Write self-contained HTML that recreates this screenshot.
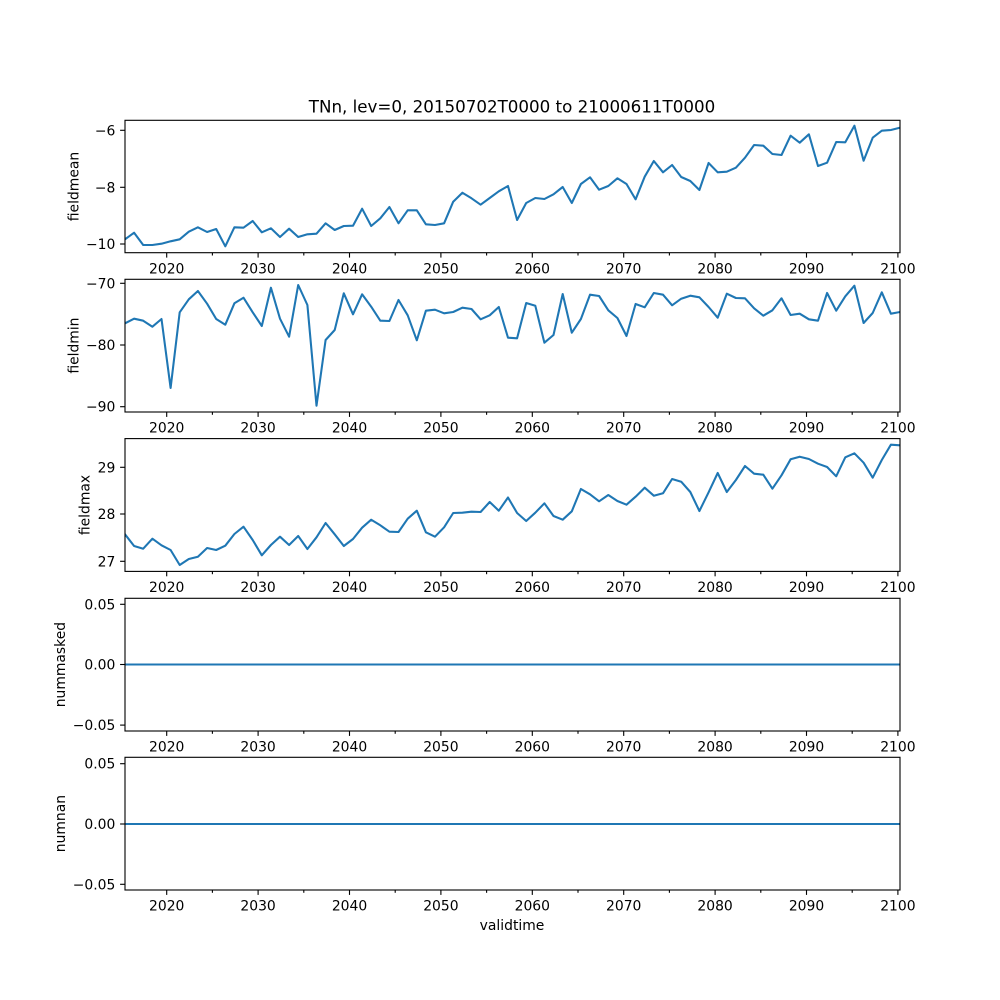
<!DOCTYPE html>
<html>
<head>
<meta charset="utf-8">
<style>
html,body{margin:0;padding:0;background:#fff;}
svg{display:block;}
text{font-family:"DejaVu Sans","Liberation Sans",sans-serif;fill:#000;}
.tk{font-size:13.9px;}
.yl{font-size:13.9px;}
.d{fill:none;stroke:#1f77b4;stroke-width:2.08;stroke-linejoin:round;stroke-linecap:square;}
.sp{fill:none;stroke:#000;stroke-width:1.11;}
.t{stroke:#000;stroke-width:1.11;}
</style>
</head>
<body>
<svg width="1000" height="1000" viewBox="0 0 1000 1000" xmlns="http://www.w3.org/2000/svg">
<rect width="1000" height="1000" fill="#fff"/>
<defs>
<clipPath id="c1"><rect x="125" y="120.3" width="775" height="132.4"/></clipPath>
<clipPath id="c2"><rect x="125" y="279.3" width="775" height="132.7"/></clipPath>
<clipPath id="c3"><rect x="125" y="438.6" width="775" height="132.8"/></clipPath>
</defs>

<text x="512" y="112.7" text-anchor="middle" style="font-size:16.7px">TNn, lev=0, 20150702T0000 to 21000611T0000</text>

<!-- Panel 1 -->
<polyline class="d" clip-path="url(#c1)" points="125.0,239.3 134.1,232.7 143.2,245 152.4,245 161.5,243.7 170.6,241.3 179.7,239.3 188.8,231.7 197.9,227.3 207.1,232 216.2,229 225.3,246.3 234.4,227.3 243.5,227.7 252.7,221 261.8,232.3 270.9,228.3 280.0,237 289.1,228.7 298.2,237 307.4,234.3 316.5,233.7 325.6,223.3 334.7,230 343.8,226 353.0,225.7 362.1,208.7 371.2,226 380.3,218.3 389.4,207 398.5,223.3 407.7,210.3 416.8,210.3 425.9,224.3 435.0,225 444.1,223.3 453.2,201.7 462.4,192.7 471.5,198.3 480.6,204.7 489.7,198 498.8,191.3 508.0,186 517.1,220 526.2,203 535.3,198 544.4,199 553.5,194.3 562.7,187 571.8,203 580.9,184 590.0,177.3 599.1,189.7 608.3,186 617.4,178.3 626.5,184 635.6,199.3 644.7,176.7 653.8,161 663.0,172.3 672.1,165 681.2,177 690.3,181 699.4,190 708.6,163 717.7,172.3 726.8,171.7 735.9,167.7 745.0,157.7 754.1,145 763.3,145.7 772.4,154 781.5,155 790.6,135.7 799.7,142.7 808.9,134.3 818.0,166 827.1,162.7 836.2,142 845.3,142.3 854.4,125.7 863.6,160.7 872.7,137.7 881.8,130.7 890.9,130 900.0,127.7"/>
<rect class="sp" x="125" y="120.3" width="775" height="132.4"/>
<g class="t">
<line x1="125" y1="130.3" x2="120.1" y2="130.3"/>
<line x1="125" y1="187.3" x2="120.1" y2="187.3"/>
<line x1="125" y1="244" x2="120.1" y2="244"/>
</g>
<g class="tk" text-anchor="end">
<text x="115.3" y="135.3">−6</text>
<text x="115.3" y="192.3">−8</text>
<text x="115.3" y="249">−10</text>
</g>
<text class="yl" transform="translate(78.3,186.5) rotate(-90)" text-anchor="middle">fieldmean</text>
<g class="t">
<line x1="166.7" y1="252.7" x2="166.7" y2="257.6"/><line x1="258.1" y1="252.7" x2="258.1" y2="257.6"/><line x1="349.5" y1="252.7" x2="349.5" y2="257.6"/><line x1="440.9" y1="252.7" x2="440.9" y2="257.6"/><line x1="532.3" y1="252.7" x2="532.3" y2="257.6"/><line x1="623.7" y1="252.7" x2="623.7" y2="257.6"/><line x1="715.1" y1="252.7" x2="715.1" y2="257.6"/><line x1="806.5" y1="252.7" x2="806.5" y2="257.6"/><line x1="897.9" y1="252.7" x2="897.9" y2="257.6"/>
<line x1="212.4" y1="252.7" x2="212.4" y2="255.5"/><line x1="303.8" y1="252.7" x2="303.8" y2="255.5"/><line x1="395.2" y1="252.7" x2="395.2" y2="255.5"/><line x1="486.6" y1="252.7" x2="486.6" y2="255.5"/><line x1="578" y1="252.7" x2="578" y2="255.5"/><line x1="669.4" y1="252.7" x2="669.4" y2="255.5"/><line x1="760.8" y1="252.7" x2="760.8" y2="255.5"/><line x1="852.2" y1="252.7" x2="852.2" y2="255.5"/>
</g>
<g class="tk" text-anchor="middle">
<text x="166.7" y="273.4">2020</text><text x="258.1" y="273.4">2030</text><text x="349.5" y="273.4">2040</text><text x="440.9" y="273.4">2050</text><text x="532.3" y="273.4">2060</text><text x="623.7" y="273.4">2070</text><text x="715.1" y="273.4">2080</text><text x="806.5" y="273.4">2090</text><text x="897.9" y="273.4">2100</text>
</g>

<!-- Panel 2 -->
<polyline class="d" clip-path="url(#c2)" points="125.0,323.3 134.1,318.7 143.2,320.7 152.4,326.7 161.5,319 170.6,388 179.7,312.3 188.8,299.3 197.9,291 207.1,303.7 216.2,319 225.3,324.7 234.4,303.3 243.5,297.7 252.7,312.3 261.8,326 270.9,287.7 280.0,318.7 289.1,336.7 298.2,285 307.4,305 316.5,405.7 325.6,340 334.7,330 343.8,293.3 353.0,314.3 362.1,294.3 371.2,306.7 380.3,320.7 389.4,321 398.5,300 407.7,315.3 416.8,340.3 425.9,310.7 435.0,309.7 444.1,313.3 453.2,312 462.4,307.7 471.5,309 480.6,319.3 489.7,315.3 498.8,307 508.0,337.7 517.1,338.3 526.2,303 535.3,305.7 544.4,342.7 553.5,335 562.7,294 571.8,332.7 580.9,319 590.0,294.7 599.1,296 608.3,310.3 617.4,318 626.5,336 635.6,304 644.7,307.3 653.8,293 663.0,294.7 672.1,305.3 681.2,298.7 690.3,295.7 699.4,297.3 708.6,307 717.7,317.7 726.8,293.7 735.9,298 745.0,298.3 754.1,308.3 763.3,315.7 772.4,310.3 781.5,298.3 790.6,315 799.7,313.7 808.9,319.3 818.0,320.7 827.1,293 836.2,310.7 845.3,296.3 854.4,285.7 863.6,323 872.7,313 881.8,292.3 890.9,313.7 900.0,312"/>
<rect class="sp" x="125" y="279.3" width="775" height="132.7"/>
<g class="t">
<line x1="125" y1="283.3" x2="120.1" y2="283.3"/>
<line x1="125" y1="345" x2="120.1" y2="345"/>
<line x1="125" y1="406.7" x2="120.1" y2="406.7"/>
</g>
<g class="tk" text-anchor="end">
<text x="115.3" y="288.3">−70</text>
<text x="115.3" y="350">−80</text>
<text x="115.3" y="411.7">−90</text>
</g>
<text class="yl" transform="translate(78.3,345.6) rotate(-90)" text-anchor="middle">fieldmin</text>
<g class="t">
<line x1="166.7" y1="412" x2="166.7" y2="416.9"/><line x1="258.1" y1="412" x2="258.1" y2="416.9"/><line x1="349.5" y1="412" x2="349.5" y2="416.9"/><line x1="440.9" y1="412" x2="440.9" y2="416.9"/><line x1="532.3" y1="412" x2="532.3" y2="416.9"/><line x1="623.7" y1="412" x2="623.7" y2="416.9"/><line x1="715.1" y1="412" x2="715.1" y2="416.9"/><line x1="806.5" y1="412" x2="806.5" y2="416.9"/><line x1="897.9" y1="412" x2="897.9" y2="416.9"/>
<line x1="212.4" y1="412" x2="212.4" y2="414.8"/><line x1="303.8" y1="412" x2="303.8" y2="414.8"/><line x1="395.2" y1="412" x2="395.2" y2="414.8"/><line x1="486.6" y1="412" x2="486.6" y2="414.8"/><line x1="578" y1="412" x2="578" y2="414.8"/><line x1="669.4" y1="412" x2="669.4" y2="414.8"/><line x1="760.8" y1="412" x2="760.8" y2="414.8"/><line x1="852.2" y1="412" x2="852.2" y2="414.8"/>
</g>
<g class="tk" text-anchor="middle">
<text x="166.7" y="432.7">2020</text><text x="258.1" y="432.7">2030</text><text x="349.5" y="432.7">2040</text><text x="440.9" y="432.7">2050</text><text x="532.3" y="432.7">2060</text><text x="623.7" y="432.7">2070</text><text x="715.1" y="432.7">2080</text><text x="806.5" y="432.7">2090</text><text x="897.9" y="432.7">2100</text>
</g>

<!-- Panel 3 -->
<polyline class="d" clip-path="url(#c3)" points="125.0,534.3 134.1,546 143.2,548.7 152.4,538.7 161.5,545.3 170.6,550 179.7,565 188.8,559 197.9,556.7 207.1,548 216.2,550 225.3,545.7 234.4,534 243.5,526.7 252.7,540 261.8,555.3 270.9,545 280.0,536.7 289.1,545 298.2,536 307.4,549 316.5,537.3 325.6,523 334.7,534.3 343.8,546 353.0,539 362.1,527.7 371.2,519.7 380.3,525.3 389.4,531.7 398.5,532 407.7,518.7 416.8,510.7 425.9,532.3 435.0,536.7 444.1,527.3 453.2,513 462.4,512.7 471.5,511.7 480.6,512 489.7,502 498.8,510.7 508.0,497.5 517.1,513 526.2,521 535.3,512.7 544.4,503.3 553.5,516 562.7,519.7 571.8,511.3 580.9,489 590.0,494.3 599.1,501.3 608.3,495 617.4,501 626.5,504.7 635.6,496.7 644.7,487.7 653.8,495.7 663.0,493.3 672.1,479 681.2,481.7 690.3,492 699.4,511 708.6,492.3 717.7,473 726.8,492 735.9,480 745.0,466 754.1,473.7 763.3,474.7 772.4,488.7 781.5,475.3 790.6,459.3 799.7,456.7 808.9,459 818.0,463.7 827.1,467 836.2,476.3 845.3,457.3 854.4,453.3 863.6,462.7 872.7,477.7 881.8,460 890.9,444.7 900.0,445.3"/>
<rect class="sp" x="125" y="438.6" width="775" height="132.8"/>
<g class="t">
<line x1="125" y1="467.3" x2="120.1" y2="467.3"/>
<line x1="125" y1="514" x2="120.1" y2="514"/>
<line x1="125" y1="561.3" x2="120.1" y2="561.3"/>
</g>
<g class="tk" text-anchor="end">
<text x="115.3" y="472.3">29</text>
<text x="115.3" y="519">28</text>
<text x="115.3" y="566.3">27</text>
</g>
<text class="yl" transform="translate(89.3,505) rotate(-90)" text-anchor="middle">fieldmax</text>
<g class="t">
<line x1="166.7" y1="571.4" x2="166.7" y2="576.3"/><line x1="258.1" y1="571.4" x2="258.1" y2="576.3"/><line x1="349.5" y1="571.4" x2="349.5" y2="576.3"/><line x1="440.9" y1="571.4" x2="440.9" y2="576.3"/><line x1="532.3" y1="571.4" x2="532.3" y2="576.3"/><line x1="623.7" y1="571.4" x2="623.7" y2="576.3"/><line x1="715.1" y1="571.4" x2="715.1" y2="576.3"/><line x1="806.5" y1="571.4" x2="806.5" y2="576.3"/><line x1="897.9" y1="571.4" x2="897.9" y2="576.3"/>
<line x1="212.4" y1="571.4" x2="212.4" y2="574.2"/><line x1="303.8" y1="571.4" x2="303.8" y2="574.2"/><line x1="395.2" y1="571.4" x2="395.2" y2="574.2"/><line x1="486.6" y1="571.4" x2="486.6" y2="574.2"/><line x1="578" y1="571.4" x2="578" y2="574.2"/><line x1="669.4" y1="571.4" x2="669.4" y2="574.2"/><line x1="760.8" y1="571.4" x2="760.8" y2="574.2"/><line x1="852.2" y1="571.4" x2="852.2" y2="574.2"/>
</g>
<g class="tk" text-anchor="middle">
<text x="166.7" y="592.1">2020</text><text x="258.1" y="592.1">2030</text><text x="349.5" y="592.1">2040</text><text x="440.9" y="592.1">2050</text><text x="532.3" y="592.1">2060</text><text x="623.7" y="592.1">2070</text><text x="715.1" y="592.1">2080</text><text x="806.5" y="592.1">2090</text><text x="897.9" y="592.1">2100</text>
</g>

<!-- Panel 4 -->
<line class="d" x1="125" y1="664.5" x2="900" y2="664.5" style="stroke-linecap:butt"/>
<rect class="sp" x="125" y="598.3" width="775" height="132.7"/>
<g class="t">
<line x1="125" y1="604.3" x2="120.1" y2="604.3"/>
<line x1="125" y1="664.5" x2="120.1" y2="664.5"/>
<line x1="125" y1="725.1" x2="120.1" y2="725.1"/>
</g>
<g class="tk" text-anchor="end">
<text x="115.3" y="609.3">0.05</text>
<text x="115.3" y="669.5">0.00</text>
<text x="115.3" y="730.1">−0.05</text>
</g>
<text class="yl" transform="translate(65,664.6) rotate(-90)" text-anchor="middle">nummasked</text>
<g class="t">
<line x1="166.7" y1="731" x2="166.7" y2="735.9"/><line x1="258.1" y1="731" x2="258.1" y2="735.9"/><line x1="349.5" y1="731" x2="349.5" y2="735.9"/><line x1="440.9" y1="731" x2="440.9" y2="735.9"/><line x1="532.3" y1="731" x2="532.3" y2="735.9"/><line x1="623.7" y1="731" x2="623.7" y2="735.9"/><line x1="715.1" y1="731" x2="715.1" y2="735.9"/><line x1="806.5" y1="731" x2="806.5" y2="735.9"/><line x1="897.9" y1="731" x2="897.9" y2="735.9"/>
<line x1="212.4" y1="731" x2="212.4" y2="733.8"/><line x1="303.8" y1="731" x2="303.8" y2="733.8"/><line x1="395.2" y1="731" x2="395.2" y2="733.8"/><line x1="486.6" y1="731" x2="486.6" y2="733.8"/><line x1="578" y1="731" x2="578" y2="733.8"/><line x1="669.4" y1="731" x2="669.4" y2="733.8"/><line x1="760.8" y1="731" x2="760.8" y2="733.8"/><line x1="852.2" y1="731" x2="852.2" y2="733.8"/>
</g>
<g class="tk" text-anchor="middle">
<text x="166.7" y="751.7">2020</text><text x="258.1" y="751.7">2030</text><text x="349.5" y="751.7">2040</text><text x="440.9" y="751.7">2050</text><text x="532.3" y="751.7">2060</text><text x="623.7" y="751.7">2070</text><text x="715.1" y="751.7">2080</text><text x="806.5" y="751.7">2090</text><text x="897.9" y="751.7">2100</text>
</g>

<!-- Panel 5 -->
<line class="d" x1="125" y1="824" x2="900" y2="824" style="stroke-linecap:butt"/>
<rect class="sp" x="125" y="757.3" width="775" height="132.7"/>
<g class="t">
<line x1="125" y1="763.7" x2="120.1" y2="763.7"/>
<line x1="125" y1="824" x2="120.1" y2="824"/>
<line x1="125" y1="884.3" x2="120.1" y2="884.3"/>
</g>
<g class="tk" text-anchor="end">
<text x="115.3" y="768.7">0.05</text>
<text x="115.3" y="829">0.00</text>
<text x="115.3" y="889.3">−0.05</text>
</g>
<text class="yl" transform="translate(65,823.6) rotate(-90)" text-anchor="middle">numnan</text>
<g class="t">
<line x1="166.7" y1="890" x2="166.7" y2="894.9"/><line x1="258.1" y1="890" x2="258.1" y2="894.9"/><line x1="349.5" y1="890" x2="349.5" y2="894.9"/><line x1="440.9" y1="890" x2="440.9" y2="894.9"/><line x1="532.3" y1="890" x2="532.3" y2="894.9"/><line x1="623.7" y1="890" x2="623.7" y2="894.9"/><line x1="715.1" y1="890" x2="715.1" y2="894.9"/><line x1="806.5" y1="890" x2="806.5" y2="894.9"/><line x1="897.9" y1="890" x2="897.9" y2="894.9"/>
<line x1="212.4" y1="890" x2="212.4" y2="892.8"/><line x1="303.8" y1="890" x2="303.8" y2="892.8"/><line x1="395.2" y1="890" x2="395.2" y2="892.8"/><line x1="486.6" y1="890" x2="486.6" y2="892.8"/><line x1="578" y1="890" x2="578" y2="892.8"/><line x1="669.4" y1="890" x2="669.4" y2="892.8"/><line x1="760.8" y1="890" x2="760.8" y2="892.8"/><line x1="852.2" y1="890" x2="852.2" y2="892.8"/>
</g>
<g class="tk" text-anchor="middle">
<text x="166.7" y="910.7">2020</text><text x="258.1" y="910.7">2030</text><text x="349.5" y="910.7">2040</text><text x="440.9" y="910.7">2050</text><text x="532.3" y="910.7">2060</text><text x="623.7" y="910.7">2070</text><text x="715.1" y="910.7">2080</text><text x="806.5" y="910.7">2090</text><text x="897.9" y="910.7">2100</text>
</g>
<text class="tk" x="512" y="930" text-anchor="middle">validtime</text>
</svg>
</body>
</html>
